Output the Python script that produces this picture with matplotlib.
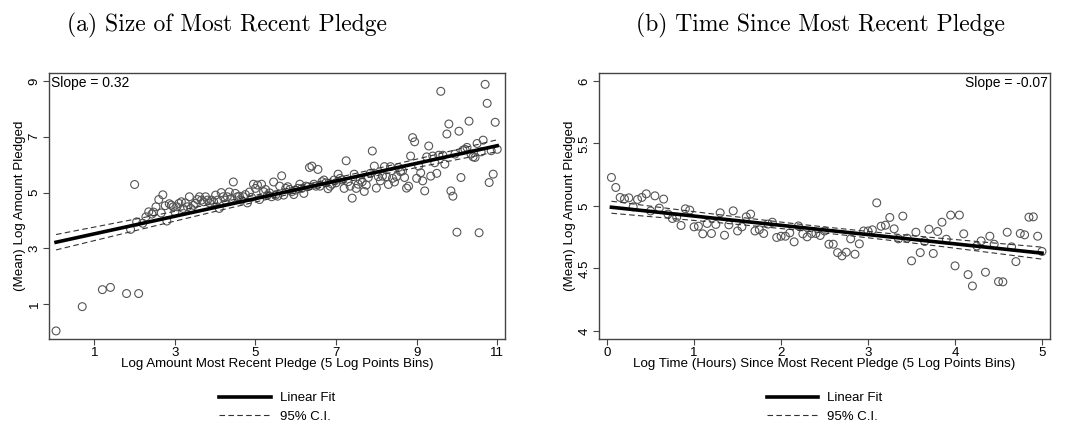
import numpy as np
import matplotlib
matplotlib.use("Agg")
import matplotlib.pyplot as plt

# ---- panel (a): binned log amount of most recent pledge ----
size_x = [0.05, 0.70, 1.20, 1.40, 1.80, 1.90, 2.00, 2.05, 2.10,
          2.20, 2.28, 2.35, 2.43, 2.47, 2.53, 2.60, 2.66, 2.70, 2.76, 2.80, 2.86, 2.91, 2.96, 3.00,
          3.05, 3.10, 3.16, 3.20, 3.26, 3.31, 3.36, 3.40, 3.46, 3.51, 3.56, 3.61, 3.66, 3.71, 3.76,
          3.81, 3.86, 3.91, 3.96, 4.01, 4.06, 4.10, 4.15, 4.20, 4.25, 4.30, 4.35, 4.40, 4.45, 4.50,
          4.55, 4.60, 4.65, 4.70, 4.75, 4.80, 4.85, 4.90, 4.95, 5.00,
          5.05, 5.10, 5.15, 5.20, 5.25, 5.30, 5.35, 5.40, 5.45, 5.50, 5.55, 5.60, 5.65, 5.70, 5.75,
          5.80, 5.85, 5.90, 5.95, 6.00, 6.05, 6.10, 6.15, 6.20, 6.25, 6.30, 6.34, 6.40, 6.45, 6.50,
          6.55, 6.60, 6.65, 6.70, 6.75, 6.80, 6.85, 6.90, 6.95, 7.00,
          7.05, 7.10, 7.15, 7.20, 7.25, 7.30, 7.35, 7.40, 7.45, 7.50, 7.55, 7.60, 7.65, 7.70, 7.75,
          7.80, 7.85, 7.90, 7.95, 8.00, 8.05, 8.10, 8.15, 8.20, 8.25, 8.30, 8.35, 8.40, 8.45, 8.50,
          8.55, 8.60, 8.65, 8.70, 8.75, 8.80, 8.85, 8.90, 8.95, 9.00,
          9.05, 9.10, 9.15, 9.20, 9.25, 9.30, 9.35, 9.40, 9.45, 9.50, 9.55, 9.60, 9.65, 9.70, 9.75,
          9.80, 9.85, 9.90, 9.95, 10.00, 10.05, 10.10, 10.15, 10.20, 10.25, 10.30, 10.35, 10.40,
          10.45, 10.50, 10.55, 10.60, 10.65, 10.70, 10.75, 10.80, 10.85, 10.90, 10.95, 11.00]
size_y = [0.04, 0.91, 1.52, 1.60, 1.38, 3.68, 5.29, 3.95, 1.38,
          3.90, 4.13, 4.31, 4.23, 4.30, 4.49, 4.75, 4.27, 4.92, 4.53, 3.98, 4.60, 4.55, 4.49, 4.31,
          4.49, 4.61, 4.67, 4.43, 4.63, 4.49, 4.85, 4.43, 4.54, 4.61, 4.75, 4.85, 4.73, 4.67, 4.85,
          4.73, 4.63, 4.73, 4.67, 4.91, 4.73, 4.43, 5.00, 4.85, 4.73, 4.85, 5.02, 4.79, 5.38, 4.97,
          4.85, 4.87, 4.73, 4.85, 4.93, 4.63, 5.02, 4.83, 5.30, 5.15,
          5.27, 4.75, 5.30, 5.03, 5.11, 4.91, 4.99, 4.85, 5.38, 4.91, 4.87, 5.23, 5.60, 4.91, 5.15,
          5.21, 5.11, 5.03, 4.93, 5.09, 5.15, 5.30, 5.15, 4.97, 5.23, 5.21, 5.90, 5.95, 5.30, 5.23,
          5.83, 5.23, 5.39, 5.45, 5.35, 5.14, 5.23, 5.30, 5.45, 5.35,
          5.66, 5.51, 5.45, 5.15, 6.14, 5.39, 5.23, 4.80, 5.66, 5.15, 5.30, 5.45, 5.39, 5.04, 5.27,
          5.54, 5.69, 6.49, 5.95, 5.16, 5.57, 5.42, 5.59, 5.93, 5.57, 5.29, 5.93, 5.51, 5.38, 5.57,
          5.90, 5.75, 5.78, 5.54, 5.16, 5.23, 6.31, 6.97, 6.82, 5.51,
          5.95, 5.71, 5.42, 5.06, 6.28, 6.67, 5.59, 6.31, 6.07, 5.69, 6.34, 8.63, 6.34, 6.02, 7.10,
          7.46, 5.06, 4.87, 6.38, 3.58, 7.20, 5.54, 6.52, 6.55, 6.62, 7.56, 6.38, 6.28,
          6.26, 6.76, 3.56, 6.46, 6.88, 8.88, 8.20, 5.36, 6.50, 5.66, 7.52, 6.55]

# ---- panel (b): binned log hours since most recent pledge ----
time_x = [0.05, 0.10, 0.15, 0.20, 0.25, 0.30, 0.35, 0.40, 0.45, 0.50,
          0.55, 0.60, 0.65, 0.70, 0.75, 0.80, 0.85, 0.90, 0.95, 1.00,
          1.05, 1.10, 1.15, 1.20, 1.25, 1.30, 1.35, 1.40, 1.45, 1.50,
          1.55, 1.60, 1.65, 1.70, 1.75, 1.80, 1.85, 1.90, 1.95, 2.00,
          2.05, 2.10, 2.15, 2.20, 2.25, 2.30, 2.35, 2.40, 2.45, 2.50,
          2.55, 2.60, 2.65, 2.70, 2.75, 2.80, 2.85, 2.90, 2.95, 3.00,
          3.05, 3.10, 3.15, 3.20, 3.25, 3.30, 3.35, 3.40, 3.45, 3.50,
          3.55, 3.60, 3.65, 3.70, 3.75, 3.80, 3.85, 3.90, 3.95, 4.00,
          4.05, 4.10, 4.15, 4.20, 4.25, 4.30, 4.35, 4.40, 4.45, 4.50,
          4.55, 4.60, 4.65, 4.70, 4.75, 4.80, 4.85, 4.90, 4.95, 5.00]
time_y = [5.228, 5.148, 5.068, 5.057, 5.065, 4.993, 5.052, 5.068, 5.097, 4.960,
          5.081, 4.983, 5.055, 4.935, 4.900, 4.910, 4.844, 4.977, 4.967, 4.833,
          4.838, 4.777, 4.860, 4.780, 4.852, 4.945, 4.766, 4.849, 4.961, 4.800,
          4.833, 4.913, 4.935, 4.800, 4.810, 4.780, 4.855, 4.870, 4.748, 4.758,
          4.758, 4.785, 4.713, 4.840, 4.777, 4.753, 4.780, 4.780, 4.764, 4.800,
          4.694, 4.694, 4.627, 4.601, 4.630, 4.737, 4.614, 4.697, 4.800, 4.800,
          4.809, 5.025, 4.838, 4.846, 4.908, 4.817, 4.737, 4.919, 4.742, 4.561,
          4.790, 4.627, 4.716, 4.814, 4.620, 4.796, 4.870, 4.734, 4.927, 4.521,
          4.927, 4.777, 4.451, 4.360, 4.680, 4.720, 4.470, 4.758, 4.694, 4.395,
          4.393, 4.790, 4.673, 4.555, 4.780, 4.769, 4.910, 4.913, 4.758, 4.636]

size_ticks = [1, 3, 5, 7, 9, 11]
size_yticks = [1, 3, 5, 7, 9]
time_ticks = [0, 1, 2, 3, 4, 5]
time_yticks = [4, 4.5, 5, 5.5, 6]

SANS = "Liberation Sans"
FRAME = "#444444"


def fit_with_ci(x, y):
    """OLS fit of y on x with 95% confidence band for the mean"""
    x = np.asarray(x, float)
    y = np.asarray(y, float)
    b, a = np.polyfit(x, y, 1)
    n = len(x)
    resid = y - (a + b * x)
    s = np.sqrt(np.sum(resid ** 2) / (n - 2))
    sxx = np.sum((x - x.mean()) ** 2)
    xs = np.linspace(x.min(), x.max(), 200)
    fit = a + b * xs
    se = s * np.sqrt(1.0 / n + (xs - x.mean()) ** 2 / sxx)
    return xs, fit, fit - 1.97 * se, fit + 1.97 * se, b


def draw_panel(ax, x, y, xlabel, xticks, yticks, xlim, ylim, slope_txt, slope_loc):
    ax.scatter(x, y, s=32, facecolors="none", edgecolors="#555555",
               linewidths=0.8, zorder=2)
    xs, fit, lo, hi, b = fit_with_ci(x, y)
    ax.plot(xs, fit, color="black", lw=2.6, zorder=3, label="Linear Fit")
    ax.plot(xs, lo, color="#333333", lw=0.8, ls=(0, (5, 3)), zorder=3, label="95% C.I.")
    ax.plot(xs, hi, color="#333333", lw=0.8, ls=(0, (5, 3)), zorder=3)
    ax.set_xlim(*xlim)
    ax.set_ylim(*ylim)
    ax.set_xticks(xticks)
    ax.set_yticks(yticks)
    ax.set_xticklabels([f"{t:g}" for t in xticks], fontsize=9.5, family=SANS)
    ax.set_yticklabels([f"{t:g}" for t in yticks], fontsize=9.5, family=SANS,
                       rotation=90, va="center")
    ax.tick_params(direction="out", length=4, width=0.8, color=FRAME, pad=2)
    ax.set_xlabel(xlabel, fontsize=9.6, family=SANS, labelpad=-1)
    ax.set_ylabel("(Mean) Log Amount Pledged", fontsize=9.6, family=SANS, labelpad=2)
    for sp in ax.spines.values():
        sp.set_color(FRAME)
        sp.set_linewidth(1.0)
    if slope_loc == "left":
        ax.text(0.004, 0.988, slope_txt, transform=ax.transAxes, ha="left", va="top",
                fontsize=10, family=SANS)
    else:
        ax.text(0.996, 0.988, slope_txt, transform=ax.transAxes, ha="right", va="top",
                fontsize=10, family=SANS)
    leg = ax.legend(loc="upper center", bbox_to_anchor=(0.5, -0.175), frameon=False,
                    handlelength=3.9, prop={"family": SANS, "size": 9.5},
                    labelspacing=0.45, handletextpad=0.7, borderpad=0)
    return leg


fig = plt.figure(figsize=(10.66, 4.23), dpi=100)
ax1 = fig.add_axes([0.046, 0.1986, 0.428, 0.629])
ax2 = fig.add_axes([0.562, 0.1986, 0.423, 0.629])

draw_panel(ax1, size_x, size_y, "Log Amount Most Recent Pledge (5 Log Points Bins)",
           size_ticks, size_yticks, (-0.124, 11.2), (-0.25, 9.29), "Slope = 0.32", "left")
draw_panel(ax2, time_x, time_y, "Log Time (Hours) Since Most Recent Pledge (5 Log Points Bins)",
           time_ticks, time_yticks, (-0.092, 5.092), (3.936, 6.064), "Slope = -0.07", "right")

fig.text(227 / 1066, 1 - 25 / 423, "(a) Size of Most Recent Pledge", ha="center", va="center",
         fontsize=17, family="cmr10")
fig.text(820 / 1066, 1 - 25 / 423, "(b) Time Since Most Recent Pledge", ha="center", va="center",
         fontsize=17, family="cmr10")

fig.savefig("out.png", dpi=100)
